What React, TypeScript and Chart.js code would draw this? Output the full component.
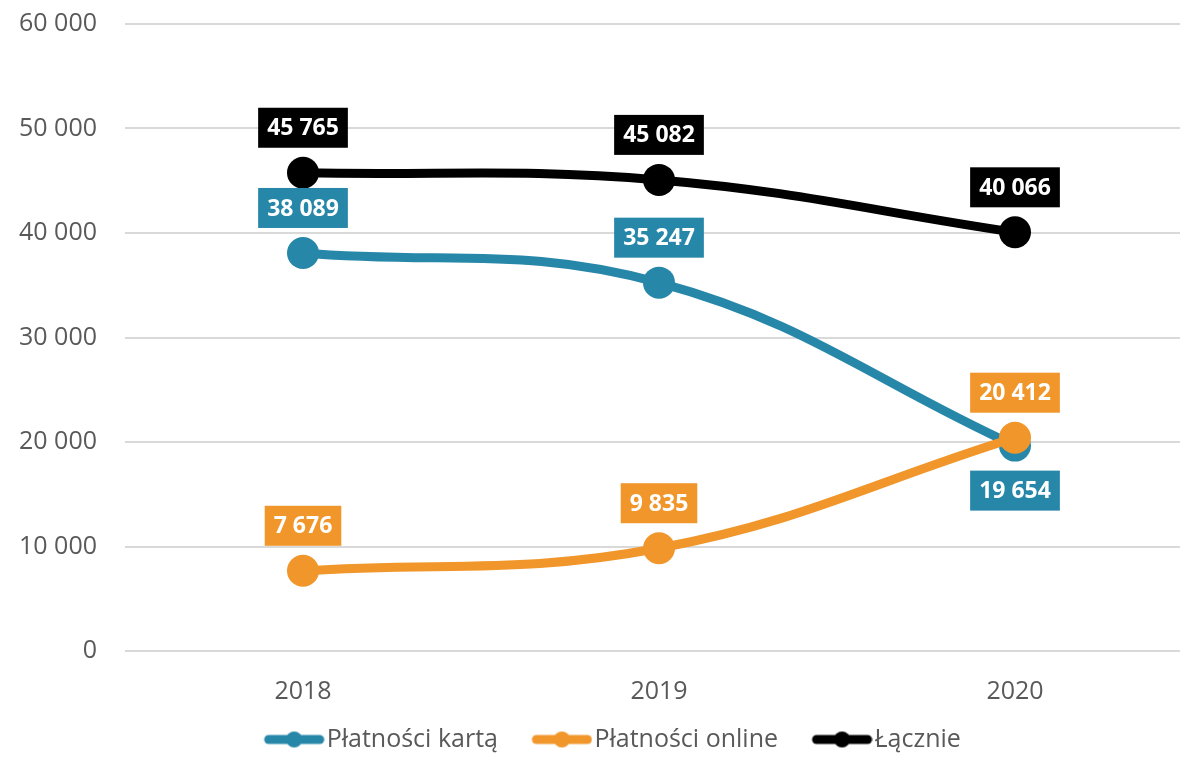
import React, { useEffect, useRef } from 'react';
import { Chart, registerables } from 'chart.js';

Chart.register(...registerables);

const categories = ['2018', '2019', '2020'];
const cardPayments = [38089, 35247, 19654];
const onlinePayments = [7676, 9835, 20412];
const totalPayments = [45765, 45082, 40066];

const yMin = 0;
const yMax = 60000;
const yStep = 10000;

const seriesNames = ['Płatności kartą', 'Płatności online', 'Łącznie'];
const seriesColors = ['#2787a9', '#f0962a', '#000000'];
// -1 = label above the point, 1 = label below
const labelSides = [
  [-1, -1, 1],
  [-1, -1, -1],
  [-1, -1, -1],
];

const FONT = "'Open Sans', 'DejaVu Sans', sans-serif";
const TEXT_COLOR = '#595959';

const LEGEND_BOX = 82;

function fmt(v: number): string {
  return String(v).replace(/\B(?=(\d{3})+(?!\d))/g, ' ');
}

// transparent canvas whose right part holds the line+dot marker
function markerImage(color: string): HTMLCanvasElement {
  const W = LEGEND_BOX + 21;
  const c = document.createElement('canvas');
  c.width = W;
  c.height = 18;
  const g = c.getContext('2d')!;
  const x0 = W - 61;
  g.strokeStyle = color;
  g.lineWidth = 9;
  g.lineCap = 'round';
  g.beginPath();
  g.moveTo(x0 + 5, 9);
  g.lineTo(x0 + 56, 9);
  g.stroke();
  g.fillStyle = color;
  g.beginPath();
  g.arc(x0 + 30.5, 9, 8, 0, Math.PI * 2);
  g.fill();
  return c;
}

const dataLabelPlugin = {
  id: 'boxLabels',
  afterDatasetsDraw(chart: any) {
    const ctx = chart.ctx;
    ctx.save();
    ctx.font = `bold 23px ${FONT}`;
    ctx.textAlign = 'center';
    ctx.textBaseline = 'middle';
    chart.data.datasets.forEach((ds: any, di: number) => {
      const meta = chart.getDatasetMeta(di);
      meta.data.forEach((pt: any, i: number) => {
        const text = fmt(ds.data[i]);
        const w = ctx.measureText(text).width + 18;
        const h = 40;
        const cx = pt.x;
        const cy = pt.y + labelSides[di][i] * 45;
        ctx.fillStyle = seriesColors[di];
        ctx.fillRect(cx - w / 2, cy - h / 2, w, h);
        ctx.fillStyle = '#ffffff';
        ctx.fillText(text, cx, cy + 1);
      });
    });
    ctx.restore();
  },
};

export default function App() {
  const ref = useRef<HTMLCanvasElement | null>(null);

  useEffect(() => {
    if (!ref.current) return;
    const seriesData = [cardPayments, onlinePayments, totalPayments];
    const orders = [1, 0, 2];
    const chart = new Chart(ref.current, {
      type: 'line',
      data: {
        labels: categories,
        datasets: seriesData.map((d, i) => ({
          label: seriesNames[i],
          data: d,
          borderColor: seriesColors[i],
          backgroundColor: seriesColors[i],
          pointBackgroundColor: seriesColors[i],
          pointBorderWidth: 0,
          pointRadius: 16,
          pointHoverRadius: 16,
          borderWidth: 9,
          tension: 0.4,
          fill: false,
          order: orders[i],
        })),
      },
      options: {
        responsive: false,
        animation: false,
        layout: { autoPadding: false, padding: { top: 24, left: 0, right: 0, bottom: 0 } },
        scales: {
          x: {
            offset: true,
            grid: { display: false },
            border: { display: false },
            ticks: { font: { family: FONT, size: 25 }, color: TEXT_COLOR, padding: 18 },
            afterFit: (s: any) => {
              s.paddingLeft = 0;
              s.paddingRight = 0;
            },
          },
          y: {
            min: yMin,
            max: yMax,
            grid: { color: '#d9d9d9', lineWidth: 2, drawTicks: false },
            border: { display: false },
            ticks: {
              stepSize: yStep,
              font: { family: FONT, size: 25 },
              color: TEXT_COLOR,
              padding: 28,
              callback: (v: any) => fmt(Number(v)),
            },
            afterFit: (s: any) => {
              s.width = 125;
              s.paddingTop = 0;
              s.paddingBottom = 0;
            },
          },
        },
        plugins: {
          tooltip: { enabled: false },
          legend: {
            position: 'bottom',
            labels: {
              usePointStyle: true,
              pointStyleWidth: LEGEND_BOX,
              padding: 2,
              color: TEXT_COLOR,
              font: { family: FONT, size: 25 },
              generateLabels: (c: any) =>
                c.data.datasets.map((ds: any, i: number) => ({
                  text: ds.label,
                  fillStyle: seriesColors[i],
                  strokeStyle: seriesColors[i],
                  lineWidth: 0,
                  pointStyle: markerImage(seriesColors[i]),
                  hidden: false,
                  datasetIndex: i,
                  fontColor: TEXT_COLOR,
                })),
            },
          },
        },
      },
      plugins: [dataLabelPlugin],
    } as any);
    return () => chart.destroy();
  }, []);

  return (
    <div style={{ width: 1188, height: 762, overflow: 'hidden', margin: '-8px', background: '#fff' }}>
      <canvas ref={ref} width={1193} height={762} style={{ display: 'block' }} />
    </div>
  );
}
